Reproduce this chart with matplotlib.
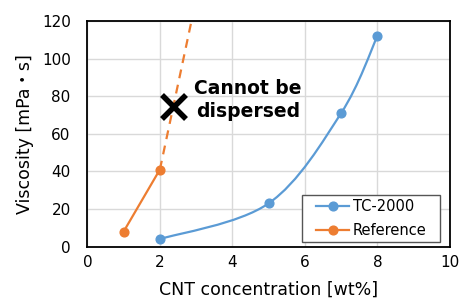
import matplotlib

matplotlib.use("Agg")
import matplotlib.pyplot as plt
import numpy as np
from matplotlib.patches import PathPatch, Rectangle
from matplotlib.path import Path

BLUE = "#5B9BD5"
ORANGE = "#ED7D31"

tc_x = [2, 5, 7, 8]
tc_y = [4, 23, 71, 112]
ref_x = [1, 2]
ref_y = [8, 41]
ref_trend_x = [2, 2.86]
ref_trend_y = [41, 119]
fail_x = [2.4]
fail_y = [74]
x_ticks = [0, 2, 4, 6, 8, 10]
y_ticks = [0, 20, 40, 60, 80, 100, 120]


def smooth_path(xs, ys):
    # Excel-style smoothed line: cubic bezier through each point
    pts = np.column_stack([xs, ys]).astype(float)
    padded = np.vstack([pts[0], pts, pts[-1]])
    verts = [pts[0]]
    codes = [Path.MOVETO]
    for i in range(len(pts) - 1):
        p0, p1, p2, p3 = padded[i], padded[i + 1], padded[i + 2], padded[i + 3]
        verts += [p1 + (p2 - p0) / 6, p2 - (p3 - p1) / 6, p2]
        codes += [Path.CURVE4] * 3
    return Path(verts, codes)


fig = plt.figure(figsize=(4.6, 3.0), dpi=100)
ax = fig.add_axes([0.19, 0.178, 0.788, 0.752])

ax.add_patch(PathPatch(smooth_path(tc_x, tc_y), facecolor="none", edgecolor=BLUE,
                       lw=1.6, capstyle="round", joinstyle="round", zorder=3))
ax.plot(ref_x, ref_y, color=ORANGE, lw=1.6, zorder=3)
ax.plot(ref_trend_x, ref_trend_y, color=ORANGE, lw=1.6, ls=(0, (4, 3)), zorder=3)

for xs, ys, color, name in [(tc_x, tc_y, BLUE, "TC-2000"), (ref_x, ref_y, ORANGE, "Reference")]:
    ax.plot(xs, ys, ls="none", marker="o", ms=6.3, color=color, zorder=4)
    ax.plot([], [], color=color, lw=1.6, marker="o", ms=6.3, label=name)

ax.plot(fail_x, fail_y, ls="none", marker="x", ms=17, mew=4, color="black", zorder=5)
ax.text(4.43, 78, "Cannot be\ndispersed", ha="center", va="center",
        fontsize=13.5, fontweight="bold", linespacing=1.3)

ax.set_xlim(0, 10)
ax.set_ylim(0, 120)
ax.set_xticks(x_ticks)
ax.set_yticks(y_ticks)
ax.tick_params(length=0, labelsize=11)
ax.tick_params(axis="y", pad=12)
ax.tick_params(axis="x", pad=6)
ax.grid(True, color="#d9d9d9", lw=1)
ax.set_axisbelow(True)
for spine in ax.spines.values():
    spine.set_color("black")
    spine.set_linewidth(1.3)

ax.set_xlabel("CNT concentration [wt%]", fontsize=12.5, labelpad=8)
ax.set_ylabel("Viscosity [mPa・s]", fontsize=12.5, labelpad=6,
              family=["DejaVu Sans", "Noto Sans CJK JP"])

# legend box is wider than its content, so draw the frame separately
ax.add_patch(Rectangle((0.592, 0.021), 0.38, 0.208, transform=ax.transAxes,
                       facecolor="white", edgecolor="#555555", lw=1, zorder=6))
leg = ax.legend(loc="center left", bbox_to_anchor=(0.632, 0.125), fontsize=10.5,
                frameon=False, borderaxespad=0, handlelength=2.2,
                labelspacing=0.6, handletextpad=0.3, borderpad=0)
leg.set_zorder(7)

fig.savefig("out.png", dpi=100)
